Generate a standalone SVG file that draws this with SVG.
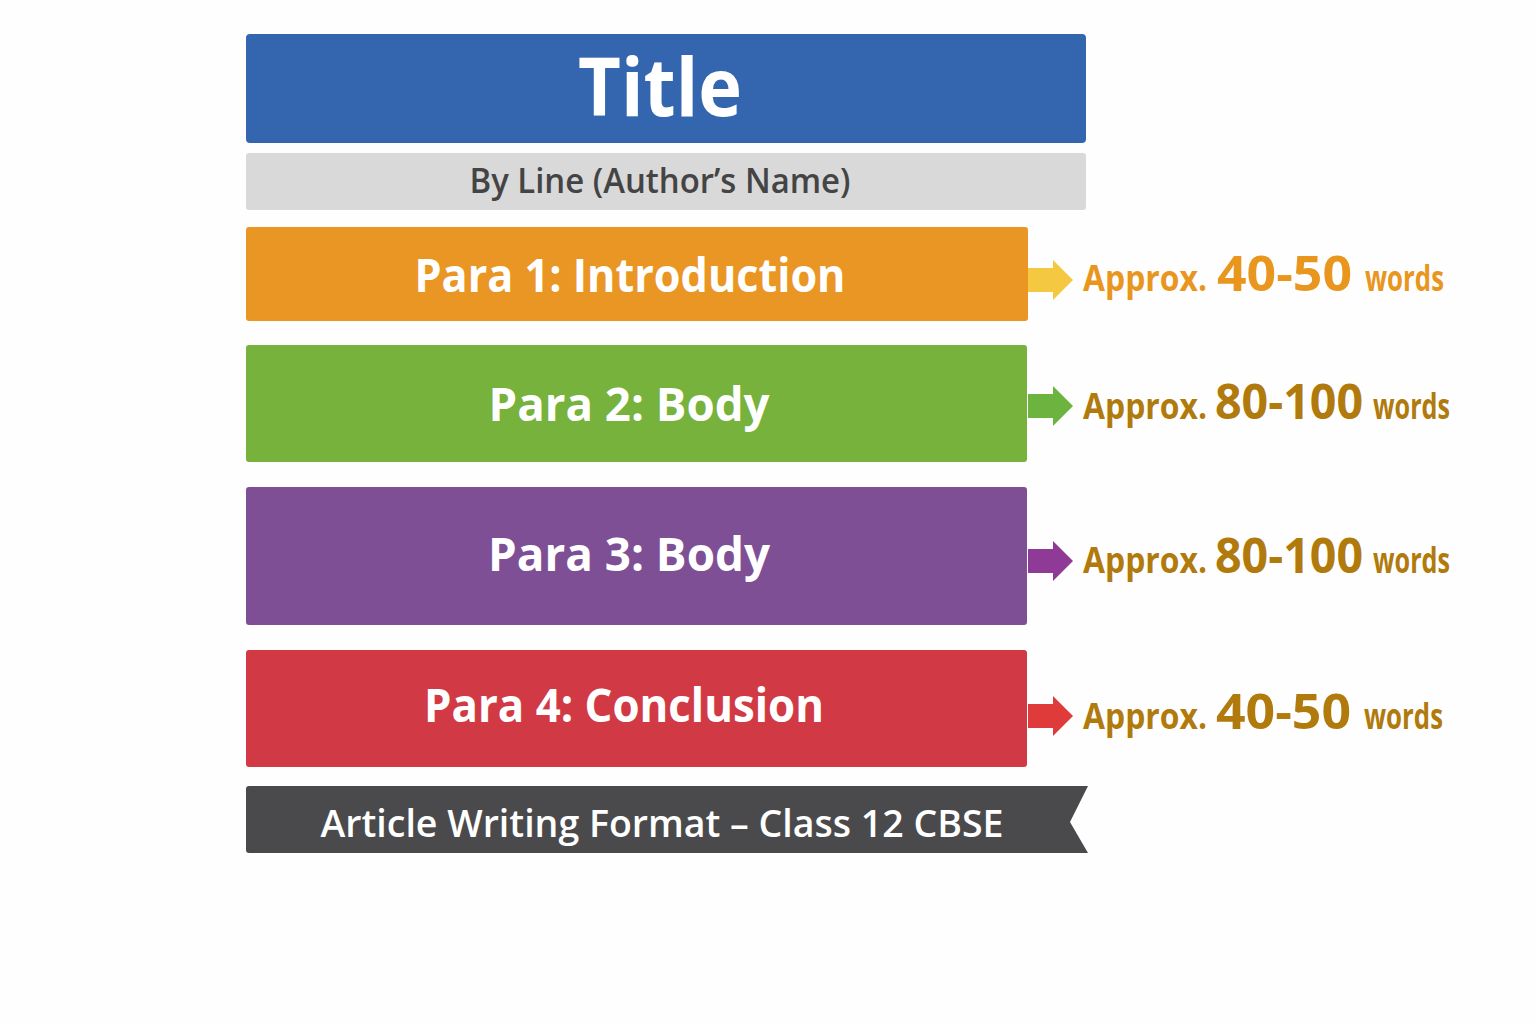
<svg xmlns="http://www.w3.org/2000/svg" width="1536" height="1024" viewBox="0 0 1536 1024">
<style>
.lbl{font-family:"Open Sans","Noto Sans","DejaVu Sans",sans-serif;font-weight:700;fill:#fff;text-anchor:middle}
.note{font-family:"Open Sans","Noto Sans","DejaVu Sans",sans-serif;font-weight:700}
.sm{font-size:36px}
.big{font-size:48px}
.n1{fill:#E8961E}
.n2{fill:#B07A0C}
</style>
<rect width="1536" height="1024" fill="#fefefe"/>
<g id="title"><rect x="246" y="34" width="840" height="109" rx="4" fill="#3366AE"/><text class="lbl" x="660" y="116" font-size="80" textLength="164" lengthAdjust="spacingAndGlyphs">Title</text></g>
<g id="byline"><rect x="246" y="153" width="840" height="57" rx="3" fill="#D9D9D9"/><text class="lbl" x="660" y="193" font-size="34" textLength="381" lengthAdjust="spacingAndGlyphs" style="fill:#444;font-weight:600">By Line (Author’s Name)</text></g>
<g id="para1"><rect x="246" y="227" width="782" height="94" rx="3" fill="#EA9624"/><text class="lbl" x="630" y="292" font-size="46" textLength="431" lengthAdjust="spacingAndGlyphs">Para 1: Introduction</text></g>
<g id="para2"><rect x="246" y="345" width="781" height="117" rx="3" fill="#76B23C"/><text class="lbl" x="629" y="421" font-size="46" textLength="281" lengthAdjust="spacingAndGlyphs">Para 2: Body</text></g>
<g id="para3"><rect x="246" y="487" width="781" height="138" rx="3" fill="#7F4F96"/><text class="lbl" x="629" y="571" font-size="46" textLength="282" lengthAdjust="spacingAndGlyphs">Para 3: Body</text></g>
<g id="para4"><rect x="246" y="650" width="781" height="117" rx="3" fill="#D13A44"/><text class="lbl" x="624" y="722" font-size="46" textLength="400" lengthAdjust="spacingAndGlyphs">Para 4: Conclusion</text></g>
<g id="footer"><path d="M249,786 H1088 L1070,822 L1088,853 H249 Q246,853 246,850 V789 Q246,786 249,786 Z" fill="#4A4A4C"/><text class="lbl" x="662" y="837" font-size="38" textLength="683" lengthAdjust="spacingAndGlyphs" style="font-weight:600">Article Writing Format – Class 12 CBSE</text></g>
<g id="connectors">
<path d="M1028,268 H1053 V260 L1073,280 L1053,300 V292 H1028 Z" fill="#F5C842"/>
<path d="M1028,394 H1053 V386 L1073,406 L1053,426 V418 H1028 Z" fill="#6DB33F"/>
<path d="M1028,549 H1053 V541 L1073,561 L1053,581 V573 H1028 Z" fill="#8E3A96"/>
<path d="M1028,704 H1053 V696 L1073,716 L1053,736 V728 H1028 Z" fill="#E03B3B"/>
</g>
<g id="note1" class="note n1">
<text class="sm" x="1083" y="291" textLength="124" lengthAdjust="spacingAndGlyphs">Approx.</text>
<text class="big" x="1217" y="291" textLength="135" lengthAdjust="spacingAndGlyphs">40-50</text>
<text class="sm" x="1365" y="291" textLength="79" lengthAdjust="spacingAndGlyphs">words</text>
</g>
<g id="note2" class="note n2">
<text class="sm" x="1083" y="419" textLength="124" lengthAdjust="spacingAndGlyphs">Approx.</text>
<text class="big" x="1215" y="419" textLength="148" lengthAdjust="spacingAndGlyphs">80-100</text>
<text class="sm" x="1373" y="419" textLength="77" lengthAdjust="spacingAndGlyphs">words</text>
</g>
<g id="note3" class="note n2">
<text class="sm" x="1083" y="573" textLength="124" lengthAdjust="spacingAndGlyphs">Approx.</text>
<text class="big" x="1215" y="573" textLength="148" lengthAdjust="spacingAndGlyphs">80-100</text>
<text class="sm" x="1373" y="573" textLength="77" lengthAdjust="spacingAndGlyphs">words</text>
</g>
<g id="note4" class="note n2">
<text class="sm" x="1083" y="729" textLength="124" lengthAdjust="spacingAndGlyphs">Approx.</text>
<text class="big" x="1216" y="729" textLength="135" lengthAdjust="spacingAndGlyphs">40-50</text>
<text class="sm" x="1364" y="729" textLength="79" lengthAdjust="spacingAndGlyphs">words</text>
</g>
</svg>
